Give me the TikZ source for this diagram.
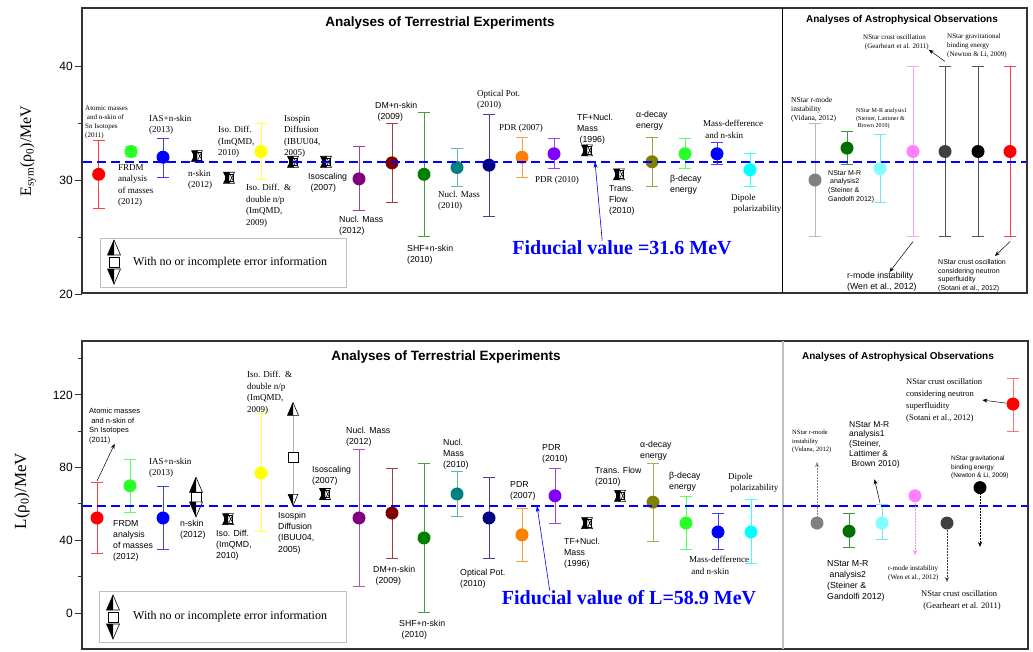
\documentclass[tikz,border=0pt]{standalone}
\usepackage{fontspec}
\setmainfont{Liberation Serif}
\setsansfont{Liberation Sans}
\usetikzlibrary{arrows.meta}

\definecolor{cred}{RGB}{255,0,0}
\definecolor{cgreen}{RGB}{40,255,40}
\definecolor{cblue}{RGB}{0,0,255}
\definecolor{cyellow}{RGB}{255,255,0}
\definecolor{cpurple}{RGB}{128,0,128}
\definecolor{cmaroon}{RGB}{128,0,0}
\definecolor{cforest}{RGB}{0,128,0}
\definecolor{cteal}{RGB}{0,128,128}
\definecolor{cnavy}{RGB}{0,0,128}
\definecolor{corange}{RGB}{255,128,0}
\definecolor{cviolet}{RGB}{128,0,255}
\definecolor{colive}{RGB}{128,128,0}
\definecolor{ccyan}{RGB}{0,255,255}
\definecolor{cgray}{RGB}{128,128,128}
\definecolor{cdkgreen}{RGB}{0,112,0}
\definecolor{cltcyan}{RGB}{128,255,255}
\definecolor{cpink}{RGB}{255,128,255}
\definecolor{cdkgray}{RGB}{64,64,64}
\definecolor{fidblue}{RGB}{0,0,255}

\tikzstyle{datum}=[shape=circle,inner sep=0pt,minimum size=13pt]
\tikzstyle{errbar}=[{Bar[width=12pt]}-{Bar[width=12pt]},line width=0.9pt]
\tikzstyle{panelframe}=[draw=black!80,line width=1.5pt]
\tikzstyle{axtick}=[draw=black!80,line width=1pt]
\tikzstyle{ticknum}=[anchor=east,inner sep=0pt,font=\sffamily\fontsize{12}{14}\selectfont]
\tikzstyle{axlabel}=[rotate=90,inner sep=0pt]
\tikzstyle{paneltitle}=[inner sep=0pt,font=\sffamily\bfseries\fontsize{13.5}{16}\selectfont]
\tikzstyle{fidtext}=[inner sep=0pt,text=fidblue,font=\bfseries\fontsize{20}{24}\selectfont]
\tikzstyle{fidline}=[draw=fidblue,line width=2.5pt,dash pattern=on 9pt off 5pt]
\tikzstyle{fidptr}=[-{Stealth[length=6pt,width=4pt]},draw=fidblue,line width=0.6pt]
\tikzstyle{pointer}=[-{Stealth[length=5pt,width=4pt]},line width=0.5pt]
\tikzstyle{dotptr}=[pointer,densely dotted,line width=0.8pt]
\tikzstyle{note}=[anchor=north west,align=left,inner sep=0pt,font=\fontsize{9}{11.5}\selectfont]
\tikzstyle{snote}=[note,font=\sffamily\fontsize{8.75}{11.2}\selectfont]
\tikzstyle{tnote}=[note,font=\fontsize{7}{9}\selectfont]
\tikzstyle{tsnote}=[note,font=\sffamily\fontsize{7}{8.8}\selectfont]
\tikzstyle{legframe}=[draw=black!25,line width=0.8pt]
\tikzstyle{legtext}=[anchor=west,inner sep=0pt,font=\fontsize{12}{14}\selectfont]

\tikzset{
  uptri/.pic={
    \filldraw[fill=white,line width=0.6pt] (-6.5pt,-7.5pt) -- (0pt,7.5pt) -- (6.5pt,-7.5pt) -- cycle;
    \fill (-6.5pt,-7.5pt) -- (0pt,7.5pt) -- (0pt,-7.5pt) -- cycle;
  },
  dntri/.pic={
    \filldraw[fill=white,line width=0.6pt] (-6.5pt,7.5pt) -- (0pt,-7.5pt) -- (6.5pt,7.5pt) -- cycle;
    \fill (-6.5pt,7.5pt) -- (0pt,-7.5pt) -- (0pt,7.5pt) -- cycle;
  },
  openbox/.pic={
    \filldraw[fill=white,line width=0.6pt] (-5pt,-5pt) rectangle (5pt,5pt);
  },
  stacksym/.pic={
    \pic at (0pt,14.5pt) {uptri};
    \pic {openbox};
    \pic at (0pt,-14.5pt) {dntri};
  },
  errsym/.pic={
    \fill[white] (-5.5pt,-5.5pt) rectangle (5.5pt,5.5pt);
    \draw[line width=0.6pt] (-3.8pt,-3.8pt) rectangle (3.8pt,3.8pt);
    \draw[line width=0.6pt] (-5.5pt,-5.5pt) -- (0pt,5.5pt) -- (5.5pt,-5.5pt) -- cycle;
    \draw[line width=0.6pt] (-5.5pt,5.5pt) -- (0pt,-5.5pt) -- (5.5pt,5.5pt) -- cycle;
    \fill (-5.5pt,-5.5pt) -- (0pt,5.5pt) -- (0pt,-5.5pt) -- cycle;
    \fill (-5.5pt,5.5pt) -- (0pt,-5.5pt) -- (0pt,5.5pt) -- cycle;
  }
}

\begin{document}
\begin{tikzpicture}[x=1pt,y=-1pt]
\useasboundingbox (0,0) rectangle (1033,651);

% frames
\draw[panelframe] (82,8) rectangle (1027,293);
\draw[line width=0.8pt] (782,8) -- (782,293);
\draw[panelframe] (82,341) rectangle (1028,649);
\draw[draw=black!25,line width=1.5pt] (783,341) -- (783,649);

% ---------------- upper panel: Esym ----------------
\begin{scope}[y=11.4pt,yshift=-522pt]
\draw[axtick] (82,20) -- (75,20);
\draw[axtick] (82,25) -- (78,25);
\draw[axtick] (82,30) -- (75,30);
\draw[axtick] (82,35) -- (78,35);
\draw[axtick] (82,40) -- (75,40);
\node[ticknum] (tk20) at (73,20) {20};
\node[ticknum] (tk30) at (73,30) {30};
\node[ticknum] (tk40) at (73,40) {40};
% terrestrial
\draw[errbar,cred!75] (98.7,27.5) -- (98.7,33.5);
\node[datum,fill=cred] (t1) at (98.7,30.5) {};
\draw[errbar,cgreen!75] (131,32) -- (131,33);
\node[datum,fill=cgreen] (t2) at (131,32.5) {};
\draw[errbar,cblue!75] (163,30.2) -- (163,33.7);
\node[datum,fill=cblue] (t3) at (163,32) {};
\pic at (197,32.1) {errsym};
\pic at (229,30.2) {errsym};
\draw[errbar,cyellow!75] (261,30) -- (261,35);
\node[datum,fill=cyellow] (t6) at (261,32.5) {};
\pic at (293,31.6) {errsym};
\pic at (326,31.6) {errsym};
\draw[errbar,cpurple!75] (359,27.3) -- (359,33);
\node[datum,fill=cpurple] (t9) at (359,30.1) {};
\draw[errbar,cmaroon!75] (392,28) -- (392,35);
\node[datum,fill=cmaroon] (t10) at (392,31.5) {};
\draw[errbar,cforest!75] (424,25) -- (424,36);
\node[datum,fill=cforest] (t11) at (424,30.5) {};
\draw[errbar,cteal!60] (457,29.4) -- (457,32.8);
\node[datum,fill=cteal] (t12) at (457,31.1) {};
\draw[errbar,cnavy!75] (489,26.8) -- (489,35.8);
\node[datum,fill=cnavy] (t13) at (489,31.3) {};
\draw[errbar,corange!75] (522,30.2) -- (522,33.8);
\node[datum,fill=corange] (t14) at (522,32) {};
\draw[errbar,cviolet!75] (554,31) -- (554,33.7);
\node[datum,fill=cviolet] (t15) at (554,32.3) {};
\pic at (587,32.6) {errsym};
\pic at (619,30.5) {errsym};
\draw[errbar,colive!75] (652,29.4) -- (652,33.8);
\node[datum,fill=colive] (t18) at (652,31.6) {};
\draw[errbar,cgreen!75] (685,31) -- (685,33.7);
\node[datum,fill=cgreen] (t19) at (685,32.3) {};
\draw[errbar,cblue!75] (717,31.3) -- (717,33.3);
\node[datum,fill=cblue] (t20) at (717,32.3) {};
\draw[errbar,ccyan!75] (750,29.4) -- (750,32.4);
\node[datum,fill=ccyan] (t21) at (750,30.9) {};
% astrophysical
\draw[errbar,cgray!55] (815,25) -- (815,35);
\node[datum,fill=cgray] (t22) at (815,30) {};
\draw[errbar,cdkgreen!75] (847,31.3) -- (847,34.3);
\node[datum,fill=cdkgreen] (t23) at (847,32.8) {};
\draw[errbar,cltcyan!90!blue] (880,28) -- (880,34);
\node[datum,fill=cltcyan] (t24) at (880,31) {};
\draw[errbar,cpink!75] (913,25) -- (913,40);
\node[datum,fill=cpink] (t25) at (913,32.5) {};
\draw[errbar,cdkgray!90] (945,25) -- (945,40);
\node[datum,fill=cdkgray] (t26) at (945,32.5) {};
\draw[errbar,cdkgray!90] (978,25) -- (978,40);
\node[datum,fill=black] (t27) at (978,32.5) {};
\draw[errbar,cred!75] (1010,25) -- (1010,40);
\node[datum,fill=cred] (t28) at (1010,32.5) {};
\coordinate (t25lo) at (913,24.6);
\coordinate (t26hi) at (945,40.4);
\coordinate (t28lo) at (1010,24.6);
\coordinate (fidTtip) at (595,31.6);
\draw[fidline] (83,31.6) -- (1026,31.6);
\end{scope}

% ---------------- lower panel: L ----------------
\begin{scope}[y=1.817pt,yshift=-613pt]
\draw[axtick] (82,0) -- (75,0);
\draw[axtick] (82,20) -- (78,20);
\draw[axtick] (82,40) -- (75,40);
\draw[axtick] (82,60) -- (78,60);
\draw[axtick] (82,80) -- (75,80);
\draw[axtick] (82,100) -- (78,100);
\draw[axtick] (82,120) -- (75,120);
\draw[axtick] (82,140) -- (78,140);
\node[ticknum] (tk0) at (73,0) {0};
\node[ticknum] (tkb40) at (73,40) {40};
\node[ticknum] (tkb80) at (73,80) {80};
\node[ticknum] (tk120) at (73,120) {120};
% terrestrial
\draw[errbar,cred!75] (97,32.5) -- (97,72);
\node[datum,fill=cred] (b1) at (97,52.3) {};
\draw[errbar,cgreen!75] (130,55) -- (130,85);
\node[datum,fill=cgreen] (b2) at (130,70) {};
\draw[errbar,cblue!75] (163,35) -- (163,70);
\node[datum,fill=cblue] (b3) at (163,52.3) {};
\pic[scale=0.85] at (196,63.8) {stacksym};
\pic at (228,51.7) {errsym};
\draw[errbar,cyellow!75] (261,44.6) -- (261,110);
\node[datum,fill=cyellow] (b6) at (261,77) {};
\coordinate (isoUp) at (293,112.3);
\coordinate (isoBox) at (293,85.6);
\coordinate (isoDn) at (293,62.2);
\draw[draw=black!30,line width=0.8pt] (isoUp) -- (isoDn);
\pic[scale=0.85] at (isoUp) {uptri};
\pic at (isoBox) {openbox};
\pic[scale=0.75] at (isoDn) {dntri};
\pic at (325,65.5) {errsym};
\draw[errbar,cpurple!65] (359,14.5) -- (359,90);
\node[datum,fill=cpurple] (b9) at (359,52.3) {};
\draw[errbar,cmaroon!75] (392,30) -- (392,80);
\node[datum,fill=cmaroon] (b10) at (392,55) {};
\draw[errbar,cforest!75] (424,0) -- (424,82.5);
\node[datum,fill=cforest] (b11) at (424,41.3) {};
\draw[errbar,cteal!60] (457,53) -- (457,78);
\node[datum,fill=cteal] (b12) at (457,65.5) {};
\draw[errbar,cnavy!75] (489,30) -- (489,75);
\node[datum,fill=cnavy] (b13) at (489,52.3) {};
\draw[errbar,corange!75] (522,28) -- (522,58);
\node[datum,fill=corange] (b14) at (522,43) {};
\draw[errbar,cviolet!75] (555,49) -- (555,80);
\node[datum,fill=cviolet] (b15) at (555,64.5) {};
\pic at (587,49.5) {errsym};
\pic at (620,64.5) {errsym};
\draw[errbar,colive!65] (653,39) -- (653,82.5);
\node[datum,fill=colive] (b18) at (653,61) {};
\draw[errbar,cgreen!75] (686,35) -- (686,64.5);
\node[datum,fill=cgreen] (b19) at (686,49.5) {};
\draw[errbar,cblue!75] (718,35) -- (718,55);
\node[datum,fill=cblue] (b20) at (718,44.6) {};
\draw[errbar,ccyan!75] (751,27) -- (751,62.7);
\node[datum,fill=ccyan] (b21) at (751,44.6) {};
% astrophysical
\node[datum,fill=cgray] (b22) at (817,49.5) {};
\coordinate (b22end) at (817,83.1);
\draw[errbar,cdkgreen!75] (849,35.7) -- (849,55);
\node[datum,fill=cdkgreen] (b23) at (849,45) {};
\draw[errbar,cltcyan!90!blue] (882,40) -- (882,60);
\node[datum,fill=cltcyan] (b24) at (882,49.5) {};
\coordinate (b24hi) at (880,60.5);
\node[datum,fill=cpink] (b25) at (915,64.5) {};
\coordinate (b25end) at (915,31.9);
\node[datum,fill=cdkgray] (b26) at (947,49.5) {};
\coordinate (b26end) at (947,17.1);
\node[datum,fill=black] (b27) at (980,69) {};
\coordinate (b27end) at (980,36.3);
\draw[errbar,cred!55] (1013,99.6) -- (1013,129.5);
\node[datum,fill=cred] (b28) at (1013,115) {};
\coordinate (b1hi) at (97,72.6);
\coordinate (fidBtip) at (537,58.9);
\draw[fidline] (83,58.9) -- (1027,58.9);
\end{scope}

% axis labels and titles
\node[axlabel,font=\fontsize{16}{18}\selectfont] (ylT) at (28,151) {E\textsubscript{sym}(ρ\textsubscript{0})/MeV};
\node[axlabel,font=\fontsize{17}{19}\selectfont] (ylB) at (22,491) {L(ρ\textsubscript{0})/MeV};
\node[paneltitle] (ttlTerrT) at (440,23) {Analyses of Terrestrial Experiments};
\node[paneltitle,font=\sffamily\bfseries\fontsize{10}{12}\selectfont] (ttlAstT) at (902,20) {Analyses of Astrophysical Observations};
\node[paneltitle] (ttlTerrB) at (446,357) {Analyses of Terrestrial Experiments};
\node[paneltitle,font=\sffamily\bfseries\fontsize{10}{12}\selectfont] (ttlAstB) at (898,357) {Analyses of Astrophysical Observations};

% legends
\draw[legframe] (100,238) rectangle (346,287);
\pic at (114,262) {stacksym};
\node[legtext] (legT) at (133,263) {With no or incomplete error information};
\draw[legframe] (99,591) rectangle (346,642);
\pic at (113,617) {stacksym};
\node[legtext] (legB) at (133,617) {With no or incomplete error information};

% fiducial values
\node[fidtext] (fidT) at (622,248) {Fiducial value =31.6 MeV};
\draw[fidptr] ([xshift=90pt]fidT.north west) -- (fidTtip);
\node[fidtext] (fidB) at (629,598) {Fiducial value of L=58.9 MeV};
\draw[fidptr] ([xshift=48pt]fidB.north west) -- (fidBtip);

% upper labels
\node[tnote] (tAtom) at (85,106) {Atomic masses\\~and n-skin of\\Sn Isotopes\\(2011)};
\node[note] (tFrdm) at (118,164) {FRDM\\analysis\\of masses\\(2012)};
\node[note] (tIas) at (149,115) {IAS+n-skin\\(2013)};
\node[note] (tNskin) at (188,170) {n-skin\\(2012)};
\node[note] (tIso10) at (218,126) {Iso. Diff.\\(ImQMD,\\2010)};
\node[note] (tIso09) at (246,184) {Iso. Diff.~~\&\\double n/p\\(ImQMD,\\2009)};
\node[note] (tIbuu) at (284,115) {Isospin\\Diffusion\\(IBUU04,\\2005)};
\node[snote] (tIsosc) at (308,173) {Isoscaling\\~(2007)};
\node[snote] (tNm12) at (339,216) {Nucl. Mass\\(2012)};
\node[snote] (tDm) at (375,102) {DM+n-skin\\~(2009)};
\node[snote] (tShf) at (407,245) {SHF+n-skin\\(2010)};
\node[note] (tNm10) at (438,191) {Nucl. Mass\\(2010)};
\node[note] (tOpt) at (477,90) {Optical Pot.\\(2010)};
\node[note] (tPdr07) at (499,124) {PDR (2007)};
\node[note] (tPdr10) at (535,176) {PDR (2010)};
\node[snote] (tTf) at (577,114) {TF+Nucl.\\Mass\\~(1996)};
\node[snote] (tTrans) at (609,185) {Trans.\\Flow\\(2010)};
\node[snote] (tAlpha) at (636,111) {α-decay\\energy};
\node[snote] (tBeta) at (670,175) {β-decay\\energy};
\node[note] (tMdiff) at (703,120) {Mass-defference\\~and n-skin};
\node[note] (tDip) at (731,194) {Dipole\\~polarizability};
\node[tnote,font=\fontsize{7.5}{9}\selectfont] (tVid) at (791,97) {NStar r-mode\\instability\\(Vidana, 2012)};
\node[tsnote] (tMr2) at (828,170) {NStar M-R\\~analysis2\\(Steiner \&\\Gandolfi 2012)};
\node[tnote,font=\fontsize{6}{7.8}\selectfont] (tMr1) at (856,108) {NStar M-R analysis1\\(Steiner, Lattimer \&\\~Brown 2010)};
\node[snote] (tWen) at (847,272) {r-mode instability\\(Wen et al., 2012)};
\node[tnote] (tGear) at (863,34) {NStar crust oscillation\\~(Gearheart et al. 2011)};
\node[tnote] (tNewt) at (947,33) {NStar gravitational\\binding energy\\(Newton \& Li, 2009)};
\node[tsnote] (tSot) at (938,259) {NStar crust oscillation\\considering neutron\\superfluidity\\(Sotani et al., 2012)};
\draw[pointer] (t25lo) -- (tWen);
\draw[pointer] (t26hi) -- (tGear.south east);
\draw[pointer] (t28lo) -- ([shift={(57pt,3pt)}]tSot.north west);

% lower labels
\node[tsnote,font=\sffamily\fontsize{7.5}{9.5}\selectfont] (bAtom) at (89,408) {Atomic masses\\~and n-skin of\\Sn Isotopes\\(2011)};
\node[snote] (bFrdm) at (113,520) {FRDM\\analysis\\of masses\\(2012)};
\node[note] (bIas) at (149,458) {IAS+n-skin\\(2013)};
\node[snote] (bNskin) at (180,520) {n-skin\\(2012)};
\node[snote] (bIso10) at (216,530) {Iso. Diff.\\(ImQMD,\\2010)};
\node[note] (bIso09) at (247,371) {Iso. Diff.~~\&\\double n/p\\(ImQMD,\\2009)};
\node[snote] (bIbuu) at (278,512) {Isospin\\Diffusion\\(IBUU04,\\2005)};
\node[snote] (bIsosc) at (312,466) {Isoscaling\\(2007)};
\node[snote] (bNm12) at (346,427) {Nucl. Mass\\(2012)};
\node[snote] (bDm) at (373,566) {DM+n-skin\\~(2009)};
\node[snote] (bShf) at (399,620) {SHF+n-skin\\~(2010)};
\node[snote] (bNm10) at (443,439) {Nucl.\\Mass\\(2010)};
\node[snote] (bOpt) at (460,569) {Optical Pot.\\(2010)};
\node[snote] (bPdr07) at (510,481) {PDR\\(2007)};
\node[snote] (bPdr10) at (542,444) {PDR\\(2010)};
\node[snote] (bTf) at (564,538) {TF+Nucl.\\Mass\\(1996)};
\node[snote] (bTrans) at (595,467) {Trans. Flow\\(2010)};
\node[snote] (bAlpha) at (640,441) {α-decay\\energy};
\node[snote] (bBeta) at (669,472) {β-decay\\energy};
\node[note] (bMdiff) at (689,556) {Mass-defference\\~and n-skin};
\node[note] (bDip) at (728,473) {Dipole\\~polarizability};
\node[tnote,font=\fontsize{6.5}{8.5}\selectfont] (bVid) at (792,430) {NStar r-mode\\instability\\(Vidana, 2012)};
\node[snote] (bMr2) at (827,560) {NStar M-R\\~analysis2\\(Steiner \&\\Gandolfi 2012)};
\node[snote,font=\sffamily\fontsize{8.5}{9.8}\selectfont] (bMr1) at (849,421) {NStar M-R\\analysis1\\(Steiner,\\Lattimer \&\\~Brown 2010)};
\node[tnote] (bWen) at (888,565) {r-mode instability\\(Wen et al., 2012)};
\node[note,font=\fontsize{8.5}{12}\selectfont] (bGear) at (921,590) {NStar crust oscillation\\~(Gearheart et al. 2011)};
\node[tsnote,font=\sffamily\fontsize{6.5}{8.5}\selectfont] (bNewt) at (951,456) {NStar gravitational\\binding energy\\(Newton \& Li, 2009)};
\node[note,font=\fontsize{8.5}{12}\selectfont] (bSot) at (906,378) {NStar crust oscillation\\considering neutron\\superfluidity\\(Sotani et al., 2012)};
\draw[pointer] (b1hi) -- (bAtom.south);
\draw[pointer] (b24hi) -- ([yshift=-11pt]bMr1.south);
\draw[pointer] (b28) -- (bSot.east);
\draw[dotptr,cgray] (b22) -- (b22end);
\draw[dotptr,cpink] (b25) -- (b25end);
\draw[dotptr,cdkgray] (b26) -- (b26end);
\draw[dotptr,black] (b27) -- (b27end);
\end{tikzpicture}
\end{document}
